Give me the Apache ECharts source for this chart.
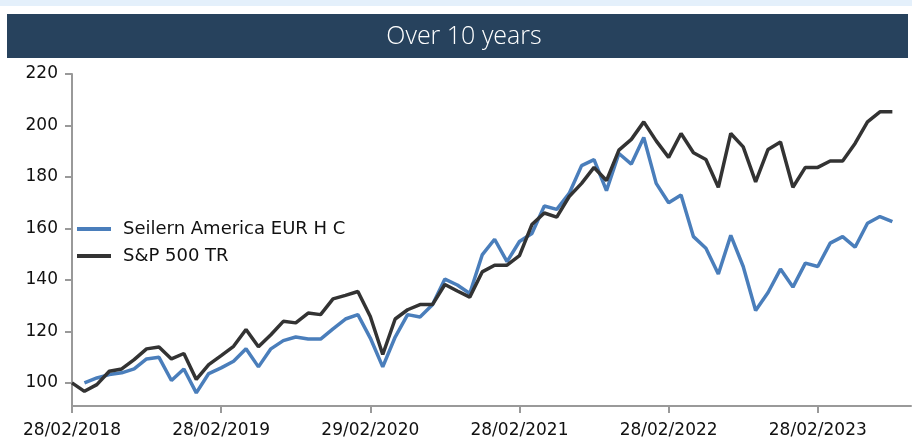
<!DOCTYPE html>
<html>
<head>
<meta charset="utf-8">
<script src="https://cdn.jsdelivr.net/npm/echarts@6.0.0/dist/echarts.min.js"></script>
<style>
  html, body { margin: 0; padding: 0; background: #fff; }
  #chart { width: 912px; height: 439px; }
</style>
</head>
<body>
<div id="chart"></div>
<script>
// monthly index, 0 = 28/02/2018
const tickMonths = [0, 12, 24, 36, 48, 60];
const tickLabels = ['28/02/2018', '28/02/2019', '29/02/2020', '28/02/2021', '28/02/2022', '28/02/2023'];
const yTicks = [100, 120, 140, 160, 180, 200, 220];

const seilern = [
  null, 100, 101.9, 103.2, 103.9, 105.4, 109.3, 109.9, 100.9, 105.4,
  96.1, 103.6, 105.8, 108.4, 113.2, 106.2, 113.2, 116.4, 117.8, 117,
  117, 121, 124.8, 126.5, 117.4, 106.2, 117.8, 126.5, 125.6, 130.3,
  140.3, 138, 134.7, 149.7, 155.8, 147.1, 154.9, 158, 168.7, 167.4,
  173.6, 184.4, 186.7, 174.7, 189.1, 185, 195.3, 177.5, 170, 173,
  156.8, 152.3, 142.3, 157.3, 145.2, 128.1, 135.1, 144.2, 137.2, 146.5,
  145.2, 154.3, 156.8, 152.7, 162, 164.6, 162.6
];
const sp500 = [
  100, 96.7, 99.3, 104.5, 105.4, 109, 113.2, 113.9, 109.3, 111.4,
  101.3, 107.1, 110.6, 114.2, 120.7, 114, 118.7, 123.9, 123.3, 127.1,
  126.5, 132.6, 134, 135.5, 125.8, 111, 124.8, 128.4, 130.4, 130.4,
  138.2, 135.7, 133.3, 143.1, 145.7, 145.7, 149.4, 161.5, 166, 164.4,
  172.4, 177.5, 183.7, 178.6, 190.4, 194.6, 201.4, 194, 187.6, 196.9,
  189.4, 186.8, 176, 196.9, 191.7, 178.1, 190.7, 193.6, 176, 183.7,
  183.7, 186.2, 186.2, 193, 201.4, 205.3, 205.3
];

const toPairs = arr => arr.map((v, i) => [i, v]);

const chart = echarts.init(document.getElementById('chart'), null, { renderer: 'canvas' });

const font = '"DejaVu Sans", "Liberation Sans", sans-serif';

chart.setOption({
  animation: false,
  graphic: [
    { type: 'rect', shape: { x: 0, y: 0, width: 912, height: 6 }, style: { fill: '#e4f0fb' }, silent: true },
    { type: 'rect', shape: { x: 7, y: 14, width: 901, height: 44 }, style: { fill: '#27425d' }, silent: true },
    {
      type: 'text', x: 464, y: 37,
      style: {
        text: 'Over 10 years', fill: '#ffffff',
        font: '300 25px "Open Sans", "Noto Sans", sans-serif',
        align: 'center', verticalAlign: 'middle'
      },
      silent: true
    }
  ],
  grid: { left: 72, right: 1, top: 74, bottom: 32, containLabel: false },
  legend: {
    orient: 'vertical',
    left: 77,
    top: 220,
    padding: 0,
    icon: 'rect',
    itemWidth: 34,
    itemHeight: 4,
    itemGap: 9,
    textStyle: { fontFamily: font, fontSize: 18, color: '#111', padding: [0, 0, 0, 7] },
    data: ['Seilern America EUR H C', 'S&P 500 TR']
  },
  xAxis: {
    type: 'value',
    min: 0,
    max: 67.5,
    splitLine: { show: false },
    axisLine: { lineStyle: { color: '#999', width: 2 } },
    axisTick: { customValues: tickMonths, length: 7, lineStyle: { color: '#999', width: 2 } },
    axisLabel: {
      customValues: tickMonths,
      formatter: v => tickLabels[tickMonths.indexOf(v)] || '',
      fontFamily: font, fontSize: 17, color: '#111', margin: 16
    }
  },
  yAxis: {
    type: 'value',
    min: 91,
    max: 220,
    splitLine: { show: false },
    axisLine: { show: true, lineStyle: { color: '#999', width: 2 } },
    axisTick: { show: true, customValues: yTicks, length: 7, lineStyle: { color: '#999', width: 2 } },
    axisLabel: { customValues: yTicks, fontFamily: font, fontSize: 17, color: '#111', margin: 14 }
  },
  series: [
    {
      name: 'Seilern America EUR H C',
      type: 'line',
      data: toPairs(seilern),
      symbol: 'none',
      connectNulls: false,
      lineStyle: { color: '#4a7ebb', width: 3.5 },
      itemStyle: { color: '#4a7ebb' },
      z: 2
    },
    {
      name: 'S&P 500 TR',
      type: 'line',
      data: toPairs(sp500),
      symbol: 'none',
      lineStyle: { color: '#333333', width: 3.5 },
      itemStyle: { color: '#333333' },
      z: 3
    }
  ]
});
</script>
</body>
</html>
